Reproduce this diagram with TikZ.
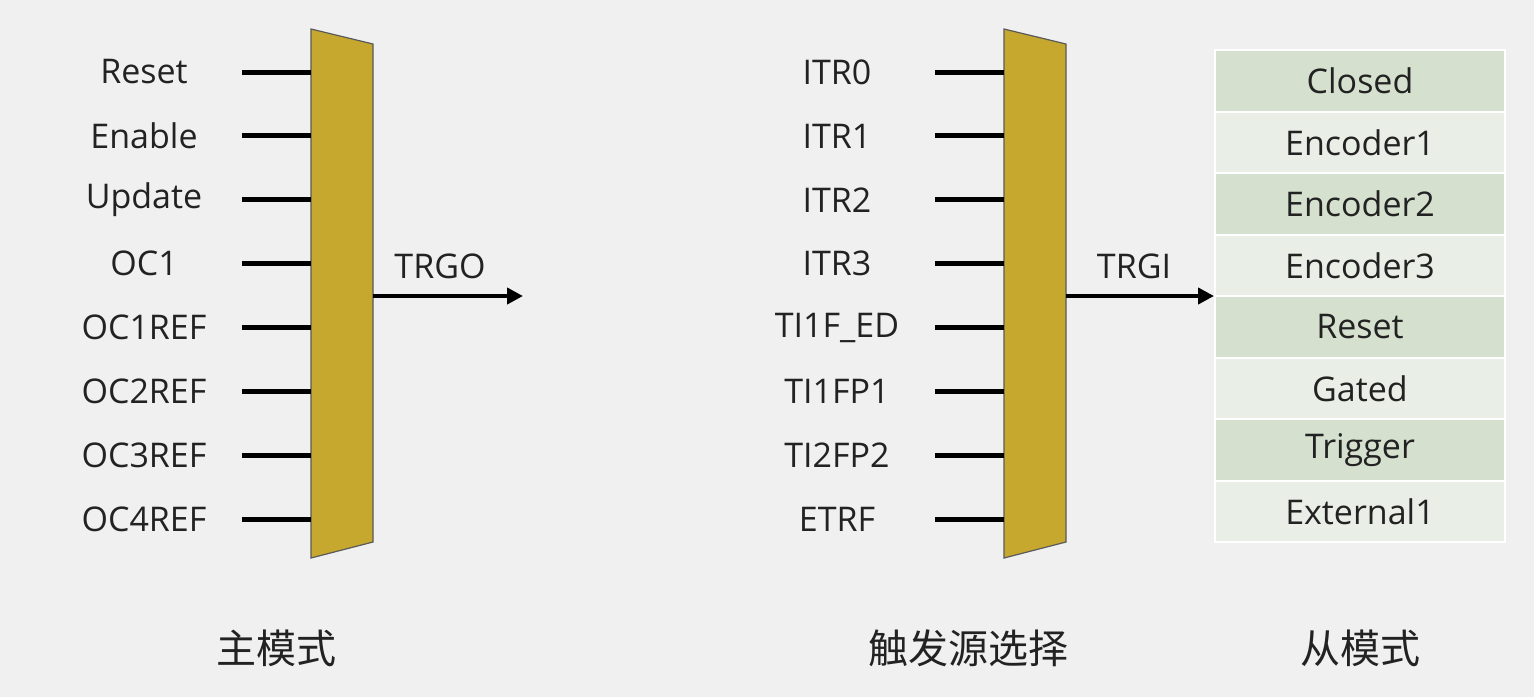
\documentclass[tikz,border=0pt]{standalone}
\usepackage{fontspec}
\setmainfont{Open Sans}
\newfontfamily\cjk{Noto Sans CJK SC}
\usetikzlibrary{arrows.meta}
\definecolor{bgc}{HTML}{F0F0F0}
\definecolor{muxc}{HTML}{C6A82F}
\definecolor{muxe}{HTML}{5A5A5A}
\definecolor{rowd}{HTML}{D5E1CE}
\definecolor{rowl}{HTML}{E9EFE6}
\definecolor{txtc}{HTML}{222222}
\tikzset{
  lbl/.style={font=\fontsize{17}{20}\selectfont, text=txtc, inner sep=0pt, anchor=center},
  captext/.style={font=\cjk\fontsize{20}{24}\selectfont, text=txtc, inner sep=0pt},
  inline/.style={line width=2.5pt, black},
  outarrow/.style={line width=2pt, black, -{Triangle[length=8pt,width=8pt]}},
  mux/.style={fill=muxc, draw=muxe, line width=0.6pt},
  row/.style={minimum width=145pt, minimum height=30.75pt, inner sep=0pt, draw=white, line width=1pt, font=\fontsize{17}{20}\selectfont, text=txtc},
}
\begin{document}
\begin{tikzpicture}[x=0.5pt,y=-0.5pt]
\fill[bgc] (0,0) rectangle (1534,697);
\useasboundingbox (0,0) rectangle (1534,697);
\draw[mux] (311,29) -- (373,44) -- (373,542) -- (311,558) -- cycle;
\draw[mux] (1004,29) -- (1066,44) -- (1066,542) -- (1004,558) -- cycle;
\foreach \t [count=\i] in {Reset,Enable,Update,OC1,OC1REF,OC2REF,OC3REF,OC4REF} {
  \pgfmathsetmacro{\yy}{72+63.9*(\i-1)}
  \node[lbl] (l\i) at (144,\yy) {\t};
  \coordinate (la\i) at (242,\yy);
  \coordinate (lb\i) at (311,\yy);
  \draw[inline] (la\i) -- (lb\i);
}
\foreach \t [count=\i] in {ITR0,ITR1,ITR2,ITR3,TI1F\_ED,TI1FP1,TI2FP2,ETRF} {
  \pgfmathsetmacro{\yy}{72+63.9*(\i-1)}
  \node[lbl] (r\i) at (837,\yy) {\t};
  \coordinate (ra\i) at (935,\yy);
  \coordinate (rb\i) at (1004,\yy);
  \draw[inline] (ra\i) -- (rb\i);
}
\coordinate (lo) at (373,296);
\coordinate (le) at (523,296);
\draw[outarrow] (lo) -- (le);
\node[lbl] (trgo) at (440,266) {TRGO};
\coordinate (ro) at (1066,296);
\foreach \t [count=\i] in {Closed,Encoder1,Encoder2,Encoder3,Reset,Gated,Trigger,External1} {
  \pgfmathsetmacro{\yy}{80.75+61.5*(\i-1)}
  \ifodd\i \def\rc{rowd}\else\def\rc{rowl}\fi
  \node[row, fill=\rc] (m\i) at (1360,\yy) {\t};
}
\draw[outarrow] (ro) -- (ro -| m5.west);
\node[lbl] (trgi) at (1134,266) {TRGI};
\node[captext] (c1) at (276,648) {主模式};
\node[captext] (c2) at (968,648) {触发源选择};
\node[captext] (c3) at (1360,648) {从模式};
\end{tikzpicture}
\end{document}
